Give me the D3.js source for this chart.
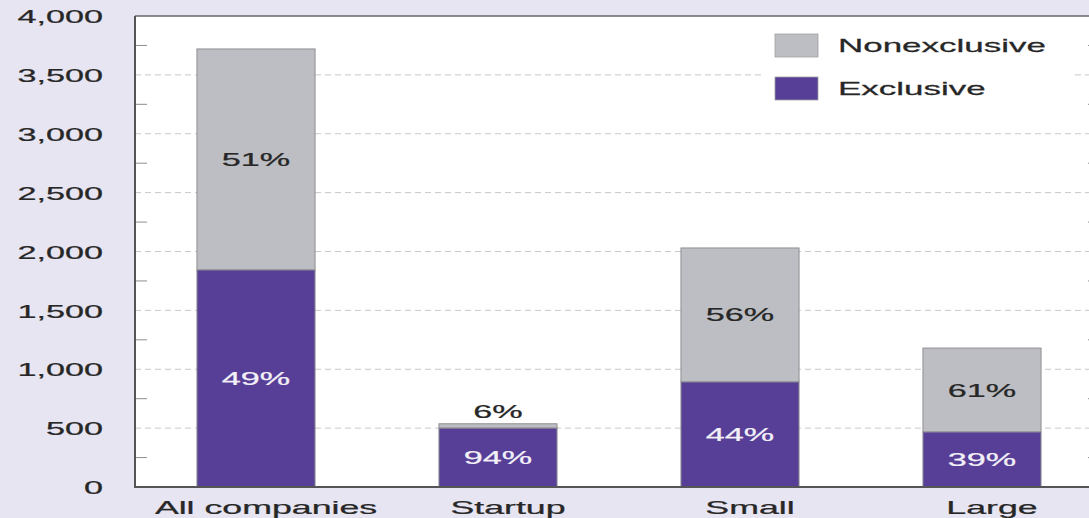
<!DOCTYPE html>
<html>
<head>
<meta charset="utf-8">
<script src="https://cdn.jsdelivr.net/npm/d3@7"></script>
<style>
  html, body { margin: 0; padding: 0; background: #e7e5f1; }
  svg { display: block; }
  text { font-family: "Liberation Sans", Arial, sans-serif; }
</style>
</head>
<body>
<div id="chart"></div>
<script>
const categories = ["All companies", "Startup", "Small", "Large"];
const exclusive = [1843, 500, 892, 467];
const nonexclusive = [1877, 37, 1138, 713];
const exclusivePct = ["49%", "94%", "44%", "39%"];
const nonexclusivePct = ["51%", "6%", "56%", "61%"];
const yTicks = [0, 500, 1000, 1500, 2000, 2500, 3000, 3500, 4000];
const minorTicks = [250, 750, 1250, 1750, 2250, 2750, 3250, 3750];
const seriesNames = ["Nonexclusive", "Exclusive"];

const width = 1089, height = 518;
const stretch = 1.8; // the source picture is squeezed wide
const grey = "#bdbec3", purple = "#573e97";
const ink = "#272727";

const svg = d3.select("#chart").append("svg")
  .attr("width", width)
  .attr("height", height);

svg.append("rect")
  .attr("width", width).attr("height", height)
  .attr("fill", "#e7e5f1");

const plot = { left: 135, right: 1100, top: 16, bottom: 487 };

const y = d3.scaleLinear().domain([0, 4000]).range([plot.bottom, plot.top]);
const x = d3.scaleBand()
  .domain(categories)
  .range([plot.left, 1103])
  .paddingInner(0.512)
  .paddingOuter(0.256);

// plot background
svg.append("rect")
  .attr("x", plot.left).attr("y", plot.top)
  .attr("width", plot.right - plot.left)
  .attr("height", plot.bottom - plot.top)
  .attr("fill", "#fff");

// dashed grid lines
svg.append("g")
  .selectAll("line")
  .data(yTicks.filter(d => d > 0 && d < 4000))
  .join("line")
  .attr("x1", plot.left).attr("x2", plot.right)
  .attr("y1", d => y(d)).attr("y2", d => y(d))
  .attr("stroke", "#c9c9cc")
  .attr("stroke-width", 1)
  .attr("stroke-dasharray", "6,4");

// minor ticks on both sides
const minor = svg.append("g").attr("stroke", "#8e8e92").attr("stroke-width", 1);
minor.selectAll(".ml")
  .data(minorTicks)
  .join("line")
  .attr("class", "ml")
  .attr("x1", plot.left).attr("x2", plot.left + 12)
  .attr("y1", d => y(d)).attr("y2", d => y(d));
minor.selectAll(".mr")
  .data(minorTicks)
  .join("line")
  .attr("class", "mr")
  .attr("x1", plot.right - 12).attr("x2", plot.right)
  .attr("y1", d => y(d)).attr("y2", d => y(d));

// text helper, stretched horizontally like the source
function label(g, px, py, str, color, sx) {
  return g.append("text")
    .attr("transform", `translate(${px},${py}) scale(${sx || stretch},1)`)
    .attr("text-anchor", "middle")
    .attr("dominant-baseline", "central")
    .attr("font-size", 19)
    .attr("fill", color)
    .attr("stroke", color)
    .attr("stroke-width", 0.25)
    .text(str);
}

// stacked bars
const bars = svg.append("g");
categories.forEach((c, i) => {
  const x0 = x(c), bw = x.bandwidth();
  const e = exclusive[i], n = nonexclusive[i];
  bars.append("rect")
    .attr("x", x0).attr("width", bw)
    .attr("y", y(e + n)).attr("height", y(e) - y(e + n))
    .attr("fill", grey)
    .attr("stroke", "#8f8f93").attr("stroke-width", 1);
  bars.append("rect")
    .attr("x", x0).attr("width", bw)
    .attr("y", y(e)).attr("height", y(0) - y(e))
    .attr("fill", purple)
    .attr("stroke", "#8f8f93").attr("stroke-width", 1);
});

// percentage labels
const labels = svg.append("g");
categories.forEach((c, i) => {
  const cx = x(c) + x.bandwidth() / 2;
  const e = exclusive[i], n = nonexclusive[i];
  label(labels, cx, (y(0) + y(e)) / 2, exclusivePct[i], "#f2f0f7");
  if (y(e) - y(e + n) > 30) {
    label(labels, cx, (y(e) + y(e + n)) / 2, nonexclusivePct[i], ink);
  } else {
    label(labels, cx, y(e + n) - 12, nonexclusivePct[i], ink);
  }
});

// frame
const frame = svg.append("g").attr("fill", "none");
frame.append("line")
  .attr("x1", plot.left).attr("x2", plot.right)
  .attr("y1", plot.top).attr("y2", plot.top)
  .attr("stroke", "#66666a").attr("stroke-width", 1.5);
frame.append("line")
  .attr("x1", plot.right).attr("x2", plot.right)
  .attr("y1", plot.top).attr("y2", plot.bottom)
  .attr("stroke", "#66666a").attr("stroke-width", 1.5);
frame.append("line")
  .attr("x1", plot.left).attr("x2", plot.left)
  .attr("y1", plot.top).attr("y2", plot.bottom + 1)
  .attr("stroke", "#555558").attr("stroke-width", 2);
frame.append("line")
  .attr("x1", plot.left - 1).attr("x2", plot.right)
  .attr("y1", plot.bottom).attr("y2", plot.bottom)
  .attr("stroke", "#555558").attr("stroke-width", 2);

// y axis labels
const yAxis = svg.append("g")
  .attr("transform", `translate(${plot.left},0)`)
  .call(d3.axisLeft(y).tickValues(yTicks).tickSize(0).tickFormat(d3.format(",")));
yAxis.select(".domain").remove();
yAxis.selectAll("text")
  .attr("x", -32 / stretch)
  .attr("dy", "0.35em")
  .attr("transform", `scale(${stretch},1)`)
  .attr("font-size", 19)
  .attr("font-family", "Liberation Sans, Arial, sans-serif")
  .attr("fill", ink)
  .attr("stroke", ink)
  .attr("stroke-width", 0.25);

// x axis labels
const xLabels = svg.append("g");
categories.forEach(c => {
  label(xLabels, x(c) + x.bandwidth() / 2 + 10, 507, c, ink, 1.88);
});

// legend
const legend = svg.append("g");
legend.append("rect")
  .attr("x", 762).attr("y", 24)
  .attr("width", 310).attr("height", 88)
  .attr("fill", "#fff");
const legendColors = [grey, purple];
seriesNames.forEach((s, i) => {
  const ly = 34 + i * 43;
  legend.append("rect")
    .attr("x", 775).attr("y", ly)
    .attr("width", 43).attr("height", 23)
    .attr("fill", legendColors[i])
    .attr("stroke", "#a0a0a4").attr("stroke-width", 0.8);
  legend.append("text")
    .attr("transform", `translate(838,${ly + 11.5}) scale(1.84,1)`)
    .attr("dominant-baseline", "central")
    .attr("font-size", 19)
    .attr("fill", ink)
    .attr("stroke", ink)
    .attr("stroke-width", 0.25)
    .text(s);
});
</script>
</body>
</html>
